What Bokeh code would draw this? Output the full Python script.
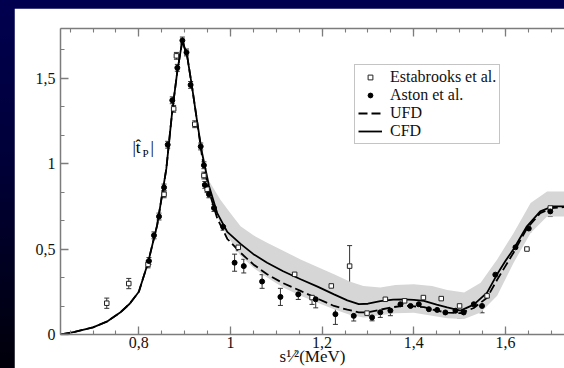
from bokeh.plotting import figure
from bokeh.models import (Range1d, LinearAxis, FixedTicker, Legend, LegendItem,
                          Whisker, TeeHead, ColumnDataSource)
from bokeh.core.properties import value
from bokeh.layouts import column
from bokeh.embed import file_html
from bokeh.resources import INLINE
import numpy as np

FONT = "'Liberation Serif', 'Times New Roman', serif"

# ---- axis ticks / labels ----
x_ticks = [0.8, 1.0, 1.2, 1.4, 1.6]
x_tick_labels = ["0,8", "1", "1,2", "1,4", "1,6"]
y_ticks = [0.0, 0.5, 1.0, 1.5]
y_tick_labels = ["0", "0,5", "1", "1,5"]
x_title = "s\u00b9\u2044\u00b2(MeV)"

# ---- CFD (solid) curve ----
cfd_x = [0.63, 0.66, 0.70, 0.73, 0.76, 0.78, 0.80, 0.82, 0.84, 0.86, 0.873, 0.884,
         0.895, 0.906, 0.916, 0.927, 0.938, 0.953, 0.971, 0.993, 1.022, 1.05, 1.08,
         1.115, 1.153, 1.19, 1.226, 1.255, 1.28, 1.30, 1.327, 1.355, 1.378, 1.40,
         1.422, 1.45, 1.473, 1.502, 1.531, 1.56, 1.582, 1.60, 1.618, 1.647, 1.676,
         1.702, 1.73]
cfd_y = [0.0, 0.015, 0.042, 0.075, 0.13, 0.18, 0.25, 0.42, 0.64, 0.97, 1.31, 1.54,
         1.72, 1.62, 1.45, 1.25, 1.06, 0.87, 0.71, 0.60, 0.53, 0.47, 0.42,
         0.37, 0.323, 0.28, 0.235, 0.20, 0.178, 0.18, 0.195, 0.204, 0.206, 0.203,
         0.197, 0.175, 0.158, 0.14, 0.175, 0.245, 0.352, 0.43, 0.50, 0.633, 0.72,
         0.749, 0.75]

# ---- UFD (dashed) curve ----
ufd_y = [0.0, 0.015, 0.042, 0.075, 0.13, 0.18, 0.25, 0.42, 0.64, 0.97, 1.31, 1.54,
         1.72, 1.62, 1.45, 1.25, 1.04, 0.84, 0.68, 0.56, 0.478, 0.41, 0.352,
         0.30, 0.255, 0.21, 0.167, 0.145, 0.13, 0.13, 0.145, 0.16, 0.168, 0.165,
         0.16, 0.14, 0.128, 0.125, 0.155, 0.215, 0.32, 0.40, 0.48, 0.62, 0.71,
         0.74, 0.745]

# ---- uncertainty band ----
band_x = [0.93, 0.953, 0.978, 1.0, 1.022, 1.05, 1.08, 1.115, 1.153, 1.19, 1.226,
          1.26, 1.29, 1.327, 1.36, 1.40, 1.44, 1.473, 1.51, 1.546, 1.582, 1.618,
          1.655, 1.691, 1.73]
band_hi = [1.20, 0.90, 0.788, 0.71, 0.633, 0.58, 0.536, 0.49, 0.439, 0.395, 0.352,
           0.31, 0.284, 0.275, 0.29, 0.294, 0.284, 0.26, 0.245, 0.303, 0.439, 0.594,
           0.769, 0.836, 0.836]
band_lo = [1.18, 0.84, 0.64, 0.55, 0.46, 0.39, 0.333, 0.275, 0.226, 0.185, 0.148,
           0.115, 0.10, 0.112, 0.125, 0.127, 0.109, 0.095, 0.09, 0.129, 0.226, 0.42,
           0.594, 0.69, 0.69]

# ---- Estabrooks et al. (open) ----
est_x = [0.730, 0.778, 0.820, 0.855, 0.876, 0.882, 0.922, 0.942, 0.949, 1.017,
         1.140, 1.178, 1.220, 1.260, 1.298, 1.338, 1.380, 1.421, 1.460, 1.500,
         1.560, 1.647, 1.698]
est_y = [0.183, 0.298, 0.41, 0.82, 1.32, 1.63, 1.23, 0.93, 0.85, 0.51,
         0.352, 0.216, 0.284, 0.40, 0.125, 0.206, 0.197, 0.216, 0.21, 0.167,
         0.226, 0.50, 0.74]
est_err = [0.03, 0.03, 0.02, 0.02, 0.02, 0.02, 0.02, 0.02, 0.02, 0.02,
           0.02, 0.04, 0.05, 0.12, 0.02, 0.03, 0.03, 0.06, 0.0, 0.07,
           0.03, 0.0, 0.03]

# ---- Aston et al. (filled) ----
ast_x = [0.822, 0.833, 0.844, 0.855, 0.863, 0.873, 0.884, 0.895, 0.904, 0.913,
         0.935, 0.942, 0.944, 0.953, 0.964, 0.984, 1.009, 1.029, 1.069, 1.109,
         1.148, 1.186, 1.229, 1.269, 1.309, 1.327, 1.349, 1.371, 1.393, 1.411,
         1.433, 1.451, 1.469, 1.491, 1.509, 1.531, 1.549, 1.578, 1.622, 1.651, 1.698]
ast_y = [0.43, 0.58, 0.69, 0.86, 1.11, 1.37, 1.56, 1.72, 1.65, 1.46,
         1.10, 0.99, 0.875, 0.82, 0.74, 0.63, 0.42, 0.40, 0.31, 0.22,
         0.235, 0.206, 0.119, 0.109, 0.10, 0.13, 0.14, 0.177, 0.167, 0.177,
         0.148, 0.144, 0.129, 0.139, 0.129, 0.177, 0.167, 0.35, 0.51, 0.62, 0.72]
ast_err = [0.02, 0.02, 0.02, 0.02, 0.02, 0.02, 0.02, 0.02, 0.02, 0.02,
           0.02, 0.02, 0.02, 0.02, 0.02, 0.02, 0.05, 0.04, 0.04, 0.05,
           0.03, 0.05, 0.06, 0.03, 0.02, 0.03, 0.03, 0.02, 0.02, 0.02,
           0.02, 0.02, 0.02, 0.02, 0.02, 0.02, 0.04, 0.02, 0.02, 0.02, 0.03]

# ---- in-plot annotation |t_P| (text pieces and anchor positions) ----
ann_text = ["|t\u0302", "P", "|"]
ann_x = [0.786, 0.808, 0.8255]
ann_y = [1.096, 1.06, 1.096]
ann_size = ["17px", "11px", "17px"]

AXC = "#7c7c7c"
TXT = "#111111"

p = figure(width=550, height=360, output_backend="svg", toolbar_location=None,
           x_range=Range1d(0.629, 1.729), y_range=Range1d(0, 1.79),
           min_border_left=46, min_border_right=0, min_border_top=20,
           min_border_bottom=32, x_axis_location=None, y_axis_location=None,
           background_fill_color="white", border_fill_color="white",
           margin=(8, 0, 0, 14))
p.outline_line_color = None
p.xgrid.visible = False
p.ygrid.visible = False

x_minor = list(np.round(np.arange(0.65, 1.7001, 0.05), 3))
y_minor = list(np.round(np.arange(0, 1.79, 1.0 / 6.0), 4))


def style(ax):
    ax.axis_line_color = AXC
    ax.axis_line_width = 1.5
    ax.major_tick_line_color = AXC
    ax.minor_tick_line_color = AXC
    ax.major_tick_line_width = 1.3
    ax.minor_tick_line_width = 1.1
    ax.major_tick_in = 8
    ax.major_tick_out = 0
    ax.minor_tick_in = 4
    ax.minor_tick_out = 0
    ax.major_label_text_font = FONT
    ax.major_label_text_color = TXT
    ax.major_label_text_font_size = "16px"
    ax.major_label_standoff = 5


xb = LinearAxis(ticker=FixedTicker(ticks=x_ticks, minor_ticks=x_minor),
                major_label_overrides=dict(zip(x_ticks, x_tick_labels)),
                axis_label=x_title)
style(xb)
xb.major_label_standoff = 2
xb.axis_label_standoff = -4
xb.axis_label_text_font = FONT
xb.axis_label_text_font_style = "normal"
xb.axis_label_text_font_size = "17px"
xb.axis_label_text_color = TXT
p.add_layout(xb, "below")

xt = LinearAxis(ticker=FixedTicker(ticks=x_ticks, minor_ticks=x_minor),
                major_label_overrides=dict(zip(x_ticks, [""] * len(x_ticks))))
style(xt)
xt.major_label_standoff = 0
p.add_layout(xt, "above")

yl = LinearAxis(ticker=FixedTicker(ticks=y_ticks, minor_ticks=y_minor),
                major_label_overrides=dict(zip(y_ticks, y_tick_labels)))
style(yl)
p.add_layout(yl, "left")

# band
p.varea(x=band_x, y1=band_lo, y2=band_hi, fill_color="#d6d6d6", fill_alpha=1.0)

# curves
ufd_r = p.line(cfd_x, ufd_y, line_color="black", line_width=1.8, line_dash="9 4")
cfd_r = p.line(cfd_x, cfd_y, line_color="black", line_width=1.8)

# data with error bars
est_src = ColumnDataSource(dict(x=est_x, y=est_y,
                                lo=[a - b for a, b in zip(est_y, est_err)],
                                hi=[a + b for a, b in zip(est_y, est_err)]))
ast_src = ColumnDataSource(dict(x=ast_x, y=ast_y,
                                lo=[a - b for a, b in zip(ast_y, ast_err)],
                                hi=[a + b for a, b in zip(ast_y, ast_err)]))
for src in (est_src, ast_src):
    w = Whisker(source=src, base="x", lower="lo", upper="hi",
                line_color="#333333", line_width=1,
                lower_head=TeeHead(size=5, line_color="#333333", line_width=1),
                upper_head=TeeHead(size=5, line_color="#333333", line_width=1))
    p.add_layout(w)

est_r = p.scatter("x", "y", source=est_src, marker="square", size=4.5,
                  fill_color="white", line_color="#222222", line_width=1)
ast_r = p.scatter("x", "y", source=ast_src, marker="circle", size=5,
                  fill_color="black", line_color="black")

legend = Legend(items=[LegendItem(label="Estabrooks et al.", renderers=[est_r]),
                       LegendItem(label="Aston et al.", renderers=[ast_r]),
                       LegendItem(label="UFD", renderers=[ufd_r]),
                       LegendItem(label="CFD", renderers=[cfd_r])],
                location=(294, 190), orientation="vertical",
                label_text_font=FONT, label_text_font_size="16px",
                label_text_color=TXT, label_text_line_height=0.8,
                label_height=12, glyph_height=12, glyph_width=24,
                label_standoff=8, spacing=0, padding=3, margin=0,
                border_line_color="#8a8a8a", border_line_width=1.5,
                background_fill_color="white", background_fill_alpha=1.0)
p.add_layout(legend)

# |t_P| annotation
ann_src = ColumnDataSource(dict(x=ann_x, y=ann_y, text=ann_text, size=ann_size))
p.text(x="x", y="y", text="text", source=ann_src, text_font=value(FONT),
       text_font_size="size", text_baseline="alphabetic", text_align="left",
       text_color="black")

page = column(p, styles={"background": "linear-gradient(to bottom, #000050 0%, #000038 45%, #00000a 100%)"},
              width=564, height=368)

open("out.html", "w").write(file_html(page, INLINE))
